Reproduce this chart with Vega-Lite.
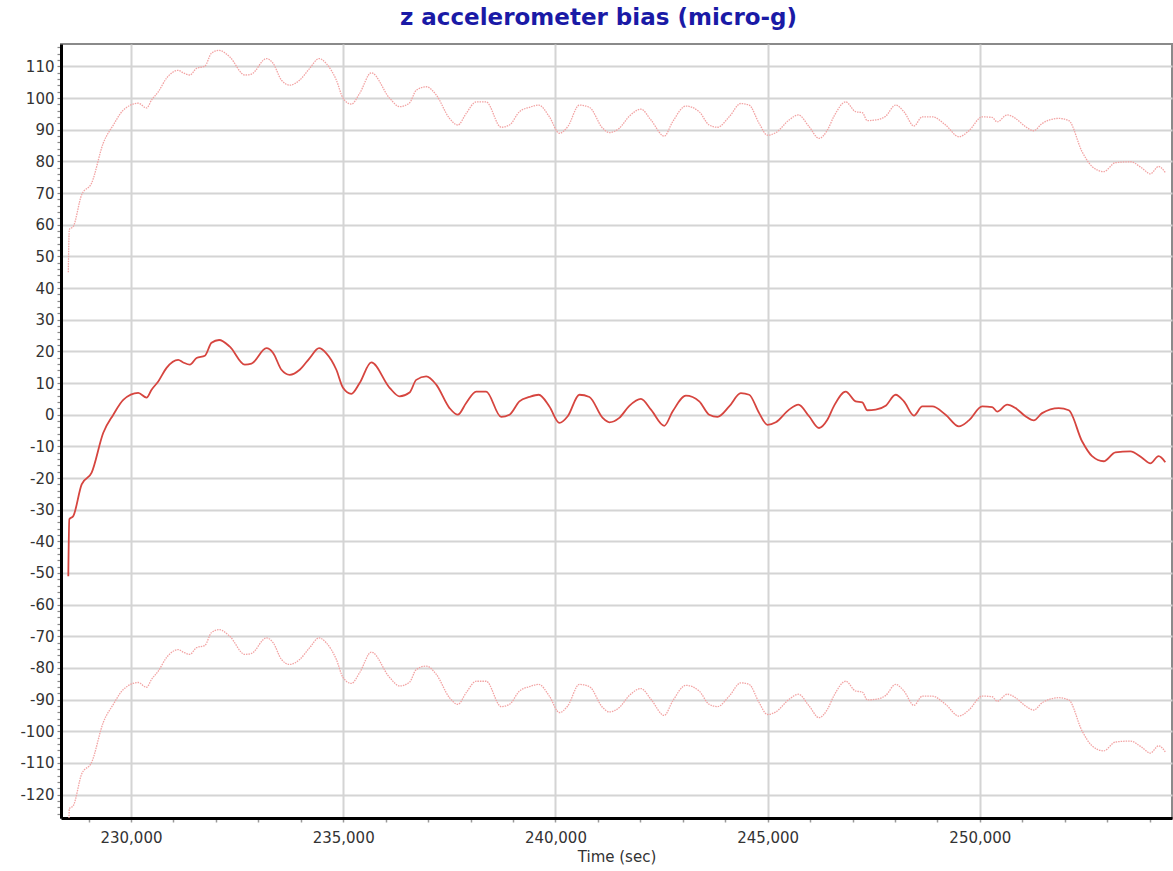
{
  "$schema": "https://vega.github.io/schema/vega-lite/v6.json",
  "width": 1111,
  "height": 774,
  "autosize": "none",
  "padding": {"left": 61, "top": 44, "right": 1, "bottom": 53},
  "background": "white",
  "title": {
    "text": "z accelerometer bias (micro-g)",
    "font": "DejaVu Sans",
    "fontSize": 23,
    "fontWeight": "bold",
    "color": "#1a1aa6",
    "anchor": "middle",
    "dx": -18,
    "offset": 10
  },
  "config": {
    "view": {"stroke": "#8a8a8a", "strokeWidth": 2},
    "axis": {"labelFont": "DejaVu Sans", "titleFont": "DejaVu Sans", "labelColor": "#333333", "titleColor": "#333333"}
  },
  "data": {"values": [
    {"t":228524,"b":-51,"u":45,"l":-145},
    {"t":228548,"b":-33,"u":58.5,"l":-124.5},
    {"t":228642,"b":-32,"u":59.5,"l":-123.5},
    {"t":228839,"b":-22,"u":69.5,"l":-113.5},
    {"t":229074,"b":-18.3,"u":73.2,"l":-109.8},
    {"t":229348,"b":-5.7,"u":85.8,"l":-97.2},
    {"t":229584,"b":0,"u":91.5,"l":-91.5},
    {"t":229819,"b":4.7,"u":96.2,"l":-86.8},
    {"t":230172,"b":6.9,"u":98.4,"l":-84.6},
    {"t":230368,"b":5.4,"u":96.9,"l":-86.1},
    {"t":230486,"b":7.9,"u":99.4,"l":-83.6},
    {"t":230643,"b":10.5,"u":102,"l":-81},
    {"t":230839,"b":14.8,"u":106.3,"l":-76.7},
    {"t":231113,"b":17.3,"u":108.8,"l":-74.2},
    {"t":231231,"b":16.5,"u":108,"l":-75},
    {"t":231388,"b":15.8,"u":107.3,"l":-75.7},
    {"t":231545,"b":17.9,"u":109.4,"l":-73.6},
    {"t":231741,"b":18.6,"u":110.1,"l":-72.9},
    {"t":231898,"b":22.7,"u":114.2,"l":-68.8},
    {"t":232078,"b":23.6,"u":115.1,"l":-67.9},
    {"t":232329,"b":21.5,"u":113,"l":-70},
    {"t":232682,"b":15.8,"u":107.3,"l":-75.7},
    {"t":232839,"b":16.1,"u":107.6,"l":-75.4},
    {"t":233192,"b":21,"u":112.5,"l":-70.5},
    {"t":233349,"b":19.5,"u":111,"l":-72},
    {"t":233545,"b":14.2,"u":105.7,"l":-77.3},
    {"t":233741,"b":12.6,"u":104.1,"l":-78.9},
    {"t":233976,"b":14.2,"u":105.7,"l":-77.3},
    {"t":234211,"b":17.9,"u":109.4,"l":-73.6},
    {"t":234431,"b":21,"u":112.5,"l":-70.5},
    {"t":234603,"b":19.4,"u":110.9,"l":-72.1},
    {"t":234839,"b":14.2,"u":105.7,"l":-77.3},
    {"t":234996,"b":8.5,"u":100,"l":-83},
    {"t":235192,"b":6.6,"u":98.1,"l":-84.9},
    {"t":235388,"b":10,"u":101.5,"l":-81.5},
    {"t":235662,"b":16.5,"u":108,"l":-75},
    {"t":236094,"b":8.5,"u":100,"l":-83},
    {"t":236329,"b":5.8,"u":97.3,"l":-85.7},
    {"t":236564,"b":7,"u":98.5,"l":-84.5},
    {"t":236721,"b":11,"u":102.5,"l":-80.5},
    {"t":236956,"b":12.1,"u":103.6,"l":-79.4},
    {"t":237192,"b":9.5,"u":101,"l":-82},
    {"t":237505,"b":2.1,"u":93.6,"l":-89.4},
    {"t":237701,"b":0,"u":91.5,"l":-91.5},
    {"t":237898,"b":3.7,"u":95.2,"l":-87.8},
    {"t":238133,"b":7.3,"u":98.8,"l":-84.2},
    {"t":238368,"b":7.3,"u":98.8,"l":-84.2},
    {"t":238721,"b":-0.7,"u":90.8,"l":-92.2},
    {"t":238917,"b":0,"u":91.5,"l":-91.5},
    {"t":239152,"b":4.2,"u":95.7,"l":-87.3},
    {"t":239388,"b":5.6,"u":97.1,"l":-85.9},
    {"t":239607,"b":6.3,"u":97.8,"l":-85.2},
    {"t":239858,"b":2.6,"u":94.1,"l":-88.9},
    {"t":240094,"b":-2.6,"u":88.9,"l":-94.1},
    {"t":240290,"b":-0.5,"u":91,"l":-92},
    {"t":240564,"b":6.3,"u":97.8,"l":-85.2},
    {"t":240800,"b":5.6,"u":97.1,"l":-85.9},
    {"t":241113,"b":-1,"u":90.5,"l":-92.5},
    {"t":241270,"b":-2.4,"u":89.1,"l":-93.9},
    {"t":241505,"b":-1,"u":90.5,"l":-92.5},
    {"t":241741,"b":2.8,"u":94.3,"l":-88.7},
    {"t":242015,"b":5,"u":96.5,"l":-86.5},
    {"t":242251,"b":1.6,"u":93.1,"l":-89.9},
    {"t":242564,"b":-3.5,"u":88,"l":-95},
    {"t":242760,"b":1,"u":92.5,"l":-90.5},
    {"t":243074,"b":6,"u":97.5,"l":-85.5},
    {"t":243388,"b":4.2,"u":95.7,"l":-87.3},
    {"t":243623,"b":0,"u":91.5,"l":-91.5},
    {"t":243819,"b":-0.7,"u":90.8,"l":-92.2},
    {"t":244094,"b":2.6,"u":94.1,"l":-88.9},
    {"t":244368,"b":6.8,"u":98.3,"l":-84.7},
    {"t":244564,"b":6.3,"u":97.8,"l":-85.2},
    {"t":244800,"b":0.5,"u":92,"l":-91},
    {"t":244996,"b":-3.2,"u":88.3,"l":-94.7},
    {"t":245192,"b":-2.4,"u":89.1,"l":-93.9},
    {"t":245505,"b":1.6,"u":93.1,"l":-89.9},
    {"t":245725,"b":3.2,"u":94.7,"l":-88.3},
    {"t":245976,"b":-0.5,"u":91,"l":-92},
    {"t":246211,"b":-4.2,"u":87.3,"l":-95.7},
    {"t":246407,"b":-1.6,"u":89.9,"l":-93.1},
    {"t":246564,"b":2.8,"u":94.3,"l":-88.7},
    {"t":246839,"b":7.3,"u":98.8,"l":-84.2},
    {"t":247074,"b":4.2,"u":95.7,"l":-87.3},
    {"t":247231,"b":3.9,"u":95.4,"l":-87.6},
    {"t":247348,"b":1.4,"u":92.9,"l":-90.1},
    {"t":247545,"b":1.6,"u":93.1,"l":-89.9},
    {"t":247780,"b":2.8,"u":94.3,"l":-88.7},
    {"t":248015,"b":6.3,"u":97.8,"l":-85.2},
    {"t":248211,"b":4.2,"u":95.7,"l":-87.3},
    {"t":248447,"b":-0.3,"u":91.2,"l":-91.8},
    {"t":248643,"b":2.6,"u":94.1,"l":-88.9},
    {"t":248878,"b":2.6,"u":94.1,"l":-88.9},
    {"t":249192,"b":0,"u":91.5,"l":-91.5},
    {"t":249505,"b":-3.7,"u":87.8,"l":-95.2},
    {"t":249741,"b":-1.8,"u":89.7,"l":-93.3},
    {"t":250054,"b":2.6,"u":94.1,"l":-88.9},
    {"t":250290,"b":2.4,"u":93.9,"l":-89.1},
    {"t":250407,"b":1,"u":92.5,"l":-90.5},
    {"t":250643,"b":3.2,"u":94.7,"l":-88.3},
    {"t":250839,"b":2.1,"u":93.6,"l":-89.4},
    {"t":251074,"b":-0.5,"u":91,"l":-92},
    {"t":251270,"b":-1.8,"u":89.7,"l":-93.3},
    {"t":251466,"b":0.5,"u":92,"l":-91},
    {"t":251858,"b":2.1,"u":93.6,"l":-89.4},
    {"t":252094,"b":1.4,"u":92.9,"l":-90.1},
    {"t":252407,"b":-8.4,"u":83.1,"l":-99.9},
    {"t":252643,"b":-13.1,"u":78.4,"l":-104.6},
    {"t":252917,"b":-14.7,"u":76.8,"l":-106.2},
    {"t":253192,"b":-11.9,"u":79.6,"l":-103.4},
    {"t":253545,"b":-11.6,"u":79.9,"l":-103.1},
    {"t":253819,"b":-13.6,"u":77.9,"l":-105.1},
    {"t":254015,"b":-15.4,"u":76.1,"l":-106.9},
    {"t":254211,"b":-13.1,"u":78.4,"l":-104.6},
    {"t":254368,"b":-15,"u":76.5,"l":-106.5}
  ]},
  "encoding": {
    "x": {
      "field": "t",
      "type": "quantitative",
      "scale": {"domain": [228352, 254526], "nice": false, "zero": false},
      "axis": {
        "title": "Time (sec)",
        "titleFontSize": 15,
        "titleFontWeight": "normal",
        "titlePadding": 4,
        "tickCount": 100,
        "values": [229000,230000,231000,232000,233000,234000,235000,236000,237000,238000,239000,240000,241000,242000,243000,244000,245000,246000,247000,248000,249000,250000,251000,252000,253000,254000],
        "labelExpr": "datum.value % 5000 === 0 ? format(datum.value, ',') : ''",
        "labelFontSize": 15,
        "labelPadding": 8,
        "labelOverlap": false,
        "grid": true,
        "gridColor": "#d4d4d4",
        "gridWidth": 2,
        "gridOpacity": {"condition": {"test": "datum.value % 5000 === 0", "value": 1}, "value": 0},
        "tickColor": "#999999",
        "tickSize": 4,
        "tickWidth": 1.5,
        "domainColor": "#000000",
        "domainWidth": 3
      }
    }
  },
  "layer": [
    {
      "mark": {"type": "line", "color": "#f2a3a3", "strokeWidth": 1.3, "strokeDash": [1.5, 1], "clip": true, "interpolate": "monotone"},
      "encoding": {
        "y": {
          "field": "u",
          "type": "quantitative",
          "scale": {"domain": [-127.4, 117.1], "nice": false, "zero": false},
          "axis": {
            "title": null,
            "tickCount": 300,
            "values": [-126,-124,-122,-120,-118,-116,-114,-112,-110,-108,-106,-104,-102,-100,-98,-96,-94,-92,-90,-88,-86,-84,-82,-80,-78,-76,-74,-72,-70,-68,-66,-64,-62,-60,-58,-56,-54,-52,-50,-48,-46,-44,-42,-40,-38,-36,-34,-32,-30,-28,-26,-24,-22,-20,-18,-16,-14,-12,-10,-8,-6,-4,-2,0,2,4,6,8,10,12,14,16,18,20,22,24,26,28,30,32,34,36,38,40,42,44,46,48,50,52,54,56,58,60,62,64,66,68,70,72,74,76,78,80,82,84,86,88,90,92,94,96,98,100,102,104,106,108,110,112,114,116],
            "labelExpr": "datum.value % 10 === 0 ? datum.value : ''",
            "labelFontSize": 15,
            "labelPadding": 3,
            "labelOverlap": false,
            "grid": true,
            "gridColor": "#d4d4d4",
            "gridWidth": 2,
            "gridOpacity": {"condition": {"test": "datum.value % 10 === 0", "value": 1}, "value": 0},
            "tickColor": "#888888",
            "tickSize": 4,
            "tickWidth": 1.2,
            "domainColor": "#000000",
            "domainWidth": 3
          }
        }
      }
    },
    {
      "mark": {"type": "line", "color": "#f2a3a3", "strokeWidth": 1.3, "strokeDash": [1.5, 1], "clip": true, "interpolate": "monotone"},
      "encoding": {"y": {"field": "l", "type": "quantitative"}}
    },
    {
      "mark": {"type": "line", "color": "#d6453f", "strokeWidth": 1.8, "clip": true, "interpolate": "monotone"},
      "encoding": {"y": {"field": "b", "type": "quantitative"}}
    }
  ]
}
